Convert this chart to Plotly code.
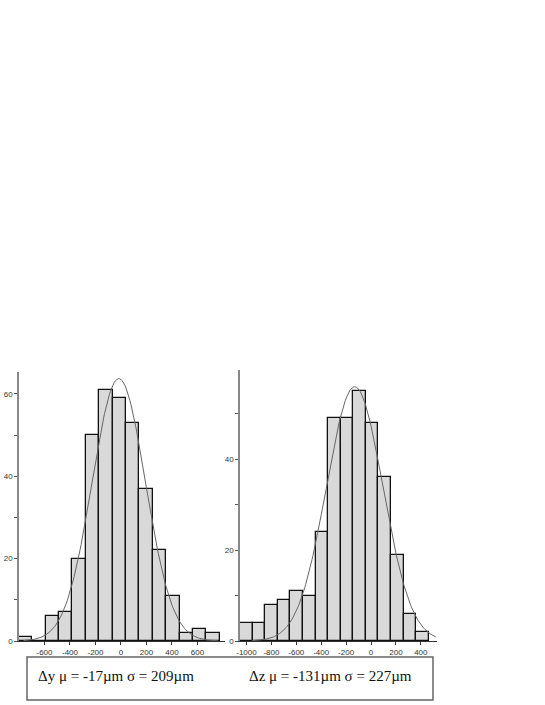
import numpy as np
import plotly.graph_objects as go

### data
# delta y histogram (bin centres in um, counts)
dy_centers = [-748, -643, -538, -433, -328, -223, -118, -13, 92, 197, 302, 407, 512, 617, 722]
dy_counts = [1, 0, 6, 7, 20, 50, 61, 59, 53, 37, 22, 11, 2, 3, 2]
dy_width = 105
dy_mu, dy_sigma, dy_peak = -17, 209, 63.7

# delta z histogram
dz_centers = [-1001, -900, -799, -698, -597, -496, -395, -294, -193, -92, 9, 110, 211, 312, 413]
dz_counts = [4, 4, 8, 9, 11, 10, 24, 49, 49, 55, 48, 36, 19, 6, 2]
dz_width = 101
dz_mu, dz_sigma, dz_peak = -131, 227, 55.9

dy_ticks = [-600, -400, -200, 0, 200, 400, 600]
dz_ticks = [-1000, -800, -600, -400, -200, 0, 200, 400]
dy_yticks = [0, 20, 40, 60]
dz_yticks = [0, 20, 40]

W, H = 545, 705
def px(x):
    return x / W
def py(y):
    return 1 - y / H

# fitted normal curves from the stated mu / sigma
def gauss(mu, sigma, peak, lo, hi):
    xs = np.linspace(lo, hi, 200)
    return xs, peak * np.exp(-(xs - mu) ** 2 / (2 * sigma ** 2))

gy_x, gy_y = gauss(dy_mu, dy_sigma, dy_peak, -765, 760)
gz_x, gz_y = gauss(dz_mu, dz_sigma, dz_peak, -955, 520)

bar_style = dict(color='#d9d9d9', line=dict(color='#111111', width=1.3))
curve_style = dict(color='#666666', width=1)

fig = go.Figure()
fig.add_trace(go.Bar(x=dy_centers, y=dy_counts, width=dy_width, marker=bar_style,
                     xaxis='x', yaxis='y', showlegend=False))
fig.add_trace(go.Scatter(x=gy_x, y=gy_y, mode='lines', line=curve_style,
                         xaxis='x', yaxis='y', showlegend=False))
fig.add_trace(go.Bar(x=dz_centers, y=dz_counts, width=dz_width, marker=bar_style,
                     xaxis='x2', yaxis='y2', showlegend=False))
fig.add_trace(go.Scatter(x=gz_x, y=gz_y, mode='lines', line=curve_style,
                         xaxis='x2', yaxis='y2', showlegend=False))

tick_font = dict(family='Arial, Liberation Sans, sans-serif', size=8, color='#333333')
xax = dict(showline=True, linecolor='#333333', linewidth=1, ticks='outside', ticklen=3,
           tickcolor='#333333', showgrid=False, zeroline=False, tickfont=tick_font,
           automargin=False)
yax = dict(showline=True, linecolor='#888888', linewidth=1.5, ticks='outside', ticklen=3,
           tickcolor='#555555', showgrid=False, zeroline=False, tickfont=tick_font,
           automargin=False,
           minor=dict(dtick=10, ticks='outside', ticklen=3, tickcolor='#555555'))

fig.update_layout(
    width=W, height=H,
    margin=dict(l=0, r=0, t=0, b=0),
    paper_bgcolor='white', plot_bgcolor='white',
    bargap=0,
    xaxis=dict(xax, domain=[px(19), px(225)], range=[-800, 816], anchor='y',
               tickvals=dy_ticks, ticktext=[str(v) for v in dy_ticks]),
    yaxis=dict(yax, domain=[py(641), py(372)], range=[0, 65.3], anchor='x',
               tickvals=dy_yticks, ticktext=[str(v) for v in dy_yticks]),
    xaxis2=dict(xax, domain=[px(240), px(437)], range=[-1052, 530], anchor='y2',
                tickvals=dz_ticks, ticktext=[str(v) for v in dz_ticks]),
    yaxis2=dict(yax, domain=[py(641), py(370)], range=[0, 59.6], anchor='x2',
                tickvals=dz_yticks, ticktext=[str(v) for v in dz_yticks]),
)

# legend box with fit results
fig.add_shape(type='rect', xref='paper', yref='paper',
              x0=px(27), x1=px(433), y0=py(700), y1=py(657),
              line=dict(color='#666666', width=1.5))
serif = dict(family='Liberation Serif, Times New Roman, serif', size=15, color='#111111')
fig.add_annotation(xref='paper', yref='paper', x=px(36), y=py(676), xanchor='left',
                   yanchor='middle', showarrow=False, font=serif,
                   text='\u0394y \u03bc = %dµm \u03c3 = %dµm' % (dy_mu, dy_sigma))
fig.add_annotation(xref='paper', yref='paper', x=px(247), y=py(676), xanchor='left',
                   yanchor='middle', showarrow=False, font=serif,
                   text='\u0394z \u03bc = %dµm \u03c3 = %dµm' % (dz_mu, dz_sigma))

# drop the default body margin so the figure fills the window from (0, 0)
fig.write_html("out.html", config={'displayModeBar': False},
               post_script="document.body.style.margin='0';document.body.style.overflow='hidden';")
